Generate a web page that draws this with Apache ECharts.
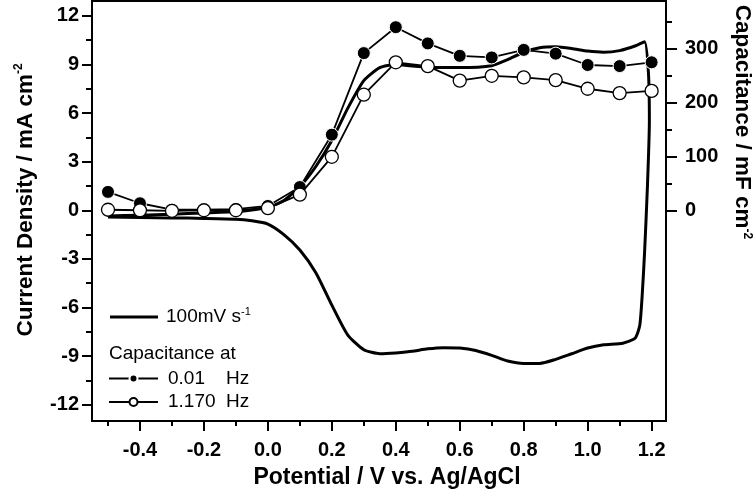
<!DOCTYPE html>
<html><head><meta charset="utf-8">
<script src="https://cdn.jsdelivr.net/npm/echarts@6/dist/echarts.min.js"></script>
<style>html,body{margin:0;padding:0;background:#fff}#c{width:753px;height:494px}</style>
</head><body><div id="c"></div>
<script>
// ---- CV curve (100 mV/s): anodic sweep then cathodic sweep ----
const cvPotential = [-0.5,-0.4,-0.3,-0.2,-0.1,-0.05,0.0,0.05,0.1,0.15,0.2,0.25,0.3,0.35,0.4,0.45,0.5,0.6,0.7,0.75,0.8,0.85,0.9,0.95,1.0,1.05,1.1,1.15,1.178,1.19,1.193,1.187,1.178,1.171,1.163,1.148,1.11,1.05,1.0,0.95,0.9,0.85,0.8,0.75,0.7,0.65,0.6,0.55,0.5,0.45,0.4,0.35,0.3,0.25,0.2,0.15,0.1,0.05,0.0,-0.05,-0.1,-0.2,-0.3,-0.4,-0.5];
const cvCurrent = [-0.36,-0.3,-0.24,-0.17,-0.08,0.02,0.2,0.6,1.45,2.7,4.3,6.3,8.0,8.8,9.0,8.9,8.82,8.8,8.92,9.3,9.75,10.02,10.08,9.98,9.82,9.75,9.85,10.15,10.4,8.5,5.5,1.5,-2.6,-5.1,-7.1,-7.9,-8.2,-8.3,-8.5,-8.85,-9.2,-9.45,-9.45,-9.3,-8.95,-8.65,-8.5,-8.48,-8.55,-8.7,-8.8,-8.85,-8.6,-7.7,-5.85,-3.85,-2.45,-1.5,-0.85,-0.65,-0.55,-0.5,-0.47,-0.44,-0.42];

// ---- Capacitance (mF cm-2) ----
const capPotential = [-0.5,-0.4,-0.3,-0.2,-0.1,0.0,0.1,0.2,0.3,0.4,0.5,0.6,0.7,0.8,0.9,1.0,1.1,1.2];
const cap001Hz  = [34,13,1,1,2,8,43,140,291,339,309,286,283,297,290,269,267,274];
const cap1170Hz = [1,0,-1,0,0,4,29,99,214,274,267,240,249,246,241,225,217,221];

// ---- Ticks ----
const xMajorTicks = [-0.4,-0.2,0.0,0.2,0.4,0.6,0.8,1.0,1.2];
const xMinorTicks = [-0.5,-0.3,-0.1,0.1,0.3,0.5,0.7,0.9,1.1];
const yLeftMajorTicks = [-12,-9,-6,-3,0,3,6,9,12];
const yLeftMinorTicks = [-10.5,-7.5,-4.5,-1.5,1.5,4.5,7.5,10.5];
const yRightMajorTicks = [0,100,200,300];
const yRightMinorTicks = [50,150,250,350];

const FONT = '"Liberation Sans", Arial, Helvetica, sans-serif';
const zip = (a, b) => a.map((v, i) => [v, b[i]]);

const chart = echarts.init(document.getElementById('c'), null, {renderer: 'canvas'});

const axisLineStyle = {show: true, onZero: false, lineStyle: {color: '#000', width: 2}};
const hiddenLine = {show: false, onZero: false};
const tickLabel = {color: '#000', fontFamily: FONT, fontWeight: 'bold', fontSize: 20};
const tick = (len, vals) => ({show: true, inside: false, length: len, lineStyle: {color: '#000', width: 2}, customValues: vals});

chart.setOption({
  animation: false,
  backgroundColor: '#fff',
  grid: {left: 92, right: 87, top: 1, bottom: 73, show: true, borderColor: '#000', borderWidth: 2, backgroundColor: 'transparent'},
  xAxis: [
    {type: 'value', min: -0.55, max: 1.245, position: 'bottom',
     axisLine: axisLineStyle, axisTick: tick(10, xMajorTicks),
     axisLabel: Object.assign({margin: 19, customValues: xMajorTicks, formatter: v => v.toFixed(1)}, tickLabel),
     splitLine: {show: false},
     name: 'Potential / V vs. Ag/AgCl', nameLocation: 'middle', nameGap: 45,
     nameTextStyle: {color: '#000', fontFamily: FONT, fontWeight: 'bold', fontSize: 23, padding: [0, 0, 0, 16]}},
    {type: 'value', min: -0.55, max: 1.245, position: 'bottom',
     axisLine: hiddenLine, axisTick: tick(5, xMinorTicks),
     axisLabel: {show: false}, splitLine: {show: false}}
  ],
  yAxis: [
    {type: 'value', min: -13.0, max: 12.91, position: 'left',
     axisLine: axisLineStyle, axisTick: tick(10, yLeftMajorTicks),
     axisLabel: Object.assign({margin: 13, customValues: yLeftMajorTicks}, tickLabel),
     splitLine: {show: false},
     name: 'Current Density / mA cm{sup|-2}', nameLocation: 'middle', nameGap: 54, nameRotate: 90,
     nameTextStyle: {color: '#000', fontFamily: FONT, fontWeight: 'bold', fontSize: 22.5, lineHeight: 25, padding: [0, 0, 0, 22],
       rich: {sup: {fontFamily: FONT, fontWeight: 'bold', fontSize: 12, lineHeight: 12, verticalAlign: 'top', color: '#000'}}}},
    {type: 'value', min: -13.0, max: 12.91, position: 'left',
     axisLine: hiddenLine, axisTick: tick(6, yLeftMinorTicks),
     axisLabel: {show: false}, splitLine: {show: false}},
    {type: 'value', min: -390.2, max: 387.5, position: 'right',
     axisLine: axisLineStyle, axisTick: tick(11, yRightMajorTicks),
     axisLabel: Object.assign({margin: 19, customValues: yRightMajorTicks}, tickLabel),
     splitLine: {show: false}},
    {type: 'value', min: -390.2, max: 387.5, position: 'right',
     axisLine: hiddenLine, axisTick: tick(6, yRightMinorTicks),
     axisLabel: {show: false}, splitLine: {show: false}}
  ],
  legend: [
    {data: [{name: '100mV s-1', icon: 'rect'}], left: 110, top: 306, padding: 0, itemWidth: 48, itemHeight: 3,
     formatter: () => '{n|100mV s}{sup|-1}',
     textStyle: {color: '#000', fontFamily: FONT, fontSize: 19, padding: [0, 0, 0, 3],
       rich: {n: {fontFamily: FONT, fontSize: 19, lineHeight: 22, color: '#000'},
              sup: {fontFamily: FONT, fontSize: 11, lineHeight: 11, verticalAlign: 'top', color: '#000'}}}},
    {data: ['0.01 Hz', '1.170 Hz'], orient: 'vertical', left: 108, top: 369, padding: 0, itemWidth: 49, itemHeight: 10, itemGap: 4.5,
     formatter: name => '{v|' + name.split(' ')[0] + '}{u|Hz}',
     textStyle: {color: '#000', fontFamily: FONT, fontSize: 19, padding: [0, 0, 0, 5],
       rich: {v: {fontFamily: FONT, fontSize: 19, lineHeight: 22, width: 58, color: '#000'},
              u: {fontFamily: FONT, fontSize: 19, lineHeight: 22, color: '#000'}}}}
  ],
  graphic: [
    {type: 'text', left: 109, top: 344, silent: true,
     style: {text: 'Capacitance at', fill: '#000', font: '19px ' + FONT}},
    {type: 'text', x: 742, y: 122, rotation: -Math.PI / 2, silent: true,
     style: {text: 'Capacitance / mF cm{sup|-2}', fill: '#000', font: 'bold 22.5px ' + FONT, align: 'center', verticalAlign: 'middle',
       rich: {sup: {font: 'bold 12px ' + FONT, fill: '#000', verticalAlign: 'top', lineHeight: 12}}}}
  ],
  series: [
    {name: '100mV s-1', type: 'line', xAxisIndex: 0, yAxisIndex: 0, data: zip(cvPotential, cvCurrent),
     symbol: 'none', showSymbol: false, smooth: 0.2, lineStyle: {color: '#000', width: 3}, itemStyle: {color: '#000'}, z: 2},
    {name: '0.01 Hz', type: 'line', xAxisIndex: 0, yAxisIndex: 2, data: zip(capPotential, cap001Hz),
     symbol: 'circle', symbolSize: 13, lineStyle: {color: '#000', width: 1.8},
     itemStyle: {color: '#000', borderColor: '#fff', borderWidth: 1}, z: 3},
    {name: '1.170 Hz', type: 'line', xAxisIndex: 0, yAxisIndex: 2, data: zip(capPotential, cap1170Hz),
     symbol: 'circle', symbolSize: 13, lineStyle: {color: '#000', width: 1.8},
     itemStyle: {color: '#fff', borderColor: '#000', borderWidth: 1.3}, z: 4}
  ]
});
</script></body></html>
